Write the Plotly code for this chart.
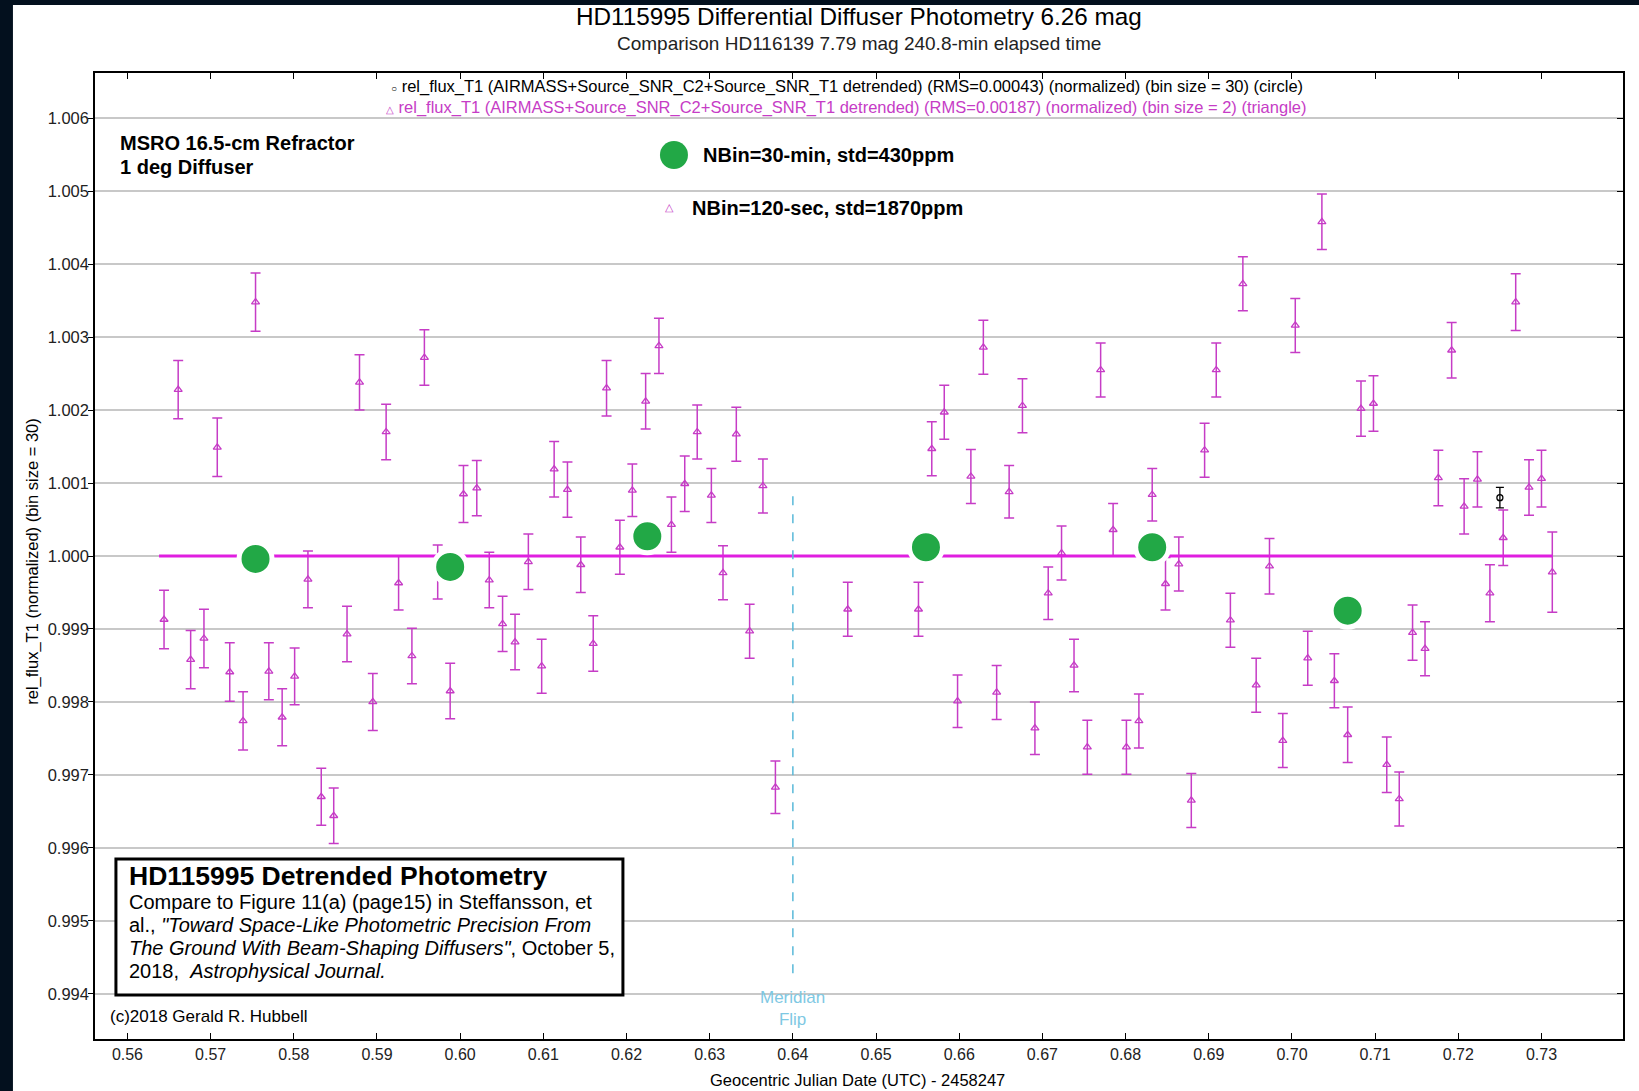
import plotly.graph_objects as go

# 120-sec bins (triangles)
jd_tri = [
    0.5644, 0.5661, 0.5676, 0.5692, 0.5708, 0.5723, 0.5739, 0.5754, 0.5770, 0.5786,
    0.5801, 0.5817, 0.5833, 0.5848, 0.5864, 0.5879, 0.5895, 0.5911, 0.5926, 0.5942,
    0.5957, 0.5973, 0.5988, 0.6004, 0.6020, 0.6035, 0.6051, 0.6066, 0.6082, 0.6098,
    0.6113, 0.6129, 0.6145, 0.6160, 0.6176, 0.6192, 0.6207, 0.6223, 0.6239, 0.6254,
    0.6270, 0.6285, 0.6302, 0.6316, 0.6332, 0.6348, 0.6364, 0.6379,
    0.6466, 0.6551, 0.6567, 0.6582, 0.6598, 0.6614, 0.6629, 0.6645, 0.6660, 0.6676,
    0.6691, 0.6707, 0.6723, 0.6738, 0.6754, 0.6770, 0.6785, 0.6801, 0.6816, 0.6832,
    0.6848, 0.6864, 0.6879, 0.6895, 0.6909, 0.6926, 0.6941, 0.6957, 0.6973, 0.6989,
    0.7004, 0.7019, 0.7036, 0.7051, 0.7067, 0.7083, 0.7098, 0.7114, 0.7129, 0.7145,
    0.7160, 0.7176, 0.7192, 0.7207, 0.7223, 0.7238, 0.7254, 0.7269, 0.7285, 0.7300,
    0.7313,
]
flux_tri = [
    0.99913, 1.00228, 0.99858, 0.99887, 1.00149, 0.99841, 0.99774, 1.00348, 0.99842, 0.99779,
    0.99835, 0.99968, 0.99670, 0.99644, 0.99893, 1.00238, 0.99800, 1.00170, 0.99963, 0.99863,
    1.00272, 0.99978, 0.99815, 1.00085, 1.00093, 0.99967, 0.99907, 0.99882, 0.99992, 0.99849,
    1.00119, 1.00091, 0.99988, 0.99880, 1.00230, 1.00012, 1.00090, 1.00212, 1.00288, 1.00043,
    1.00099, 1.00170, 1.00083, 0.99977, 1.00167, 0.99897, 1.00096, 0.99683,
    0.99927, 0.99927, 1.00147, 1.00197, 0.99801, 1.00109, 1.00286, 0.99813, 1.00088, 1.00206,
    0.99764, 0.99949, 1.00004, 0.99850, 0.99738, 1.00255, 1.00036, 0.99738, 0.99774, 1.00084,
    0.99962, 0.99989, 0.99665, 1.00145, 1.00255, 0.99912, 1.00373, 0.99823, 0.99986, 0.99747,
    1.00316, 0.99860, 1.00458, 0.99829, 0.99755, 1.00202, 1.00209, 0.99714, 0.99667, 0.99895,
    0.99873, 1.00107, 1.00282, 1.00068, 1.00105, 0.99949, 1.00025, 1.00348, 1.00094, 1.00106,
    0.99978,
]
err_tri = [
    0.00040, 0.00040, 0.00040, 0.00040, 0.00040, 0.00040, 0.00040, 0.00040, 0.00039, 0.00039,
    0.00039, 0.00039, 0.00039, 0.00038, 0.00038, 0.00038, 0.00039, 0.00038, 0.00037, 0.00038,
    0.00038, 0.00037, 0.00038, 0.00039, 0.00038, 0.00038, 0.00038, 0.00038, 0.00038, 0.00037,
    0.00038, 0.00038, 0.00038, 0.00038, 0.00038, 0.00037, 0.00036, 0.00038, 0.00038, 0.00038,
    0.00038, 0.00037, 0.00037, 0.00037, 0.00037, 0.00037, 0.00037, 0.00036,
    0.00037, 0.00037, 0.00037, 0.00037, 0.00036, 0.00037, 0.00037, 0.00037, 0.00036, 0.00037,
    0.00036, 0.00036, 0.00037, 0.00036, 0.00037, 0.00037, 0.00036, 0.00037, 0.00037, 0.00036,
    0.00036, 0.00037, 0.00037, 0.00037, 0.00037, 0.00037, 0.00037, 0.00037, 0.00038, 0.00037,
    0.00037, 0.00037, 0.00038, 0.00037, 0.00038, 0.00038, 0.00038, 0.00038, 0.00037, 0.00038,
    0.00037, 0.00038, 0.00038, 0.00038, 0.00038, 0.00039, 0.00038, 0.00039, 0.00038, 0.00039,
    0.00055,
]

# 30-min bins (green circles)
jd_30 = [0.5754, 0.5988, 0.6225, 0.6560, 0.6832, 0.7067]
flux_30 = [0.99996, 0.99985, 1.00027, 1.00012, 1.00012, 0.99925]

# bin size = 30 series (black circle)
jd_circ = [0.7250]
flux_circ = [1.00080]
err_circ = [0.00014]

# normalized level line
fit_x = [0.5638, 0.7313]
fit_y = [1.0, 1.0]

meridian_flip = 0.64
meridian_y = [0.99428, 1.00083]

FONT = "Liberation Sans, Arial, sans-serif"
MAGENTA = "#c63cc6"
GREEN = "#22a846"
FRAME = "#03101e"

fig = go.Figure()
fig.add_trace(go.Scatter(
    x=jd_tri, y=flux_tri, mode="markers",
    marker=dict(symbol="triangle-up-open", size=7, color=MAGENTA, line=dict(width=1.3)),
    error_y=dict(type="data", array=err_tri, color=MAGENTA, thickness=1.5, width=5),
    showlegend=False,
))
fig.add_trace(go.Scatter(
    x=fit_x, y=fit_y, mode="lines",
    line=dict(color="#e01ee0", width=3), showlegend=False,
))
fig.add_trace(go.Scatter(
    x=jd_circ, y=flux_circ, mode="markers", yaxis="y2",
    marker=dict(symbol="circle-open", size=6, color="black", line=dict(width=1.3)),
    error_y=dict(type="data", array=err_circ, color="black", thickness=1.3, width=4),
    showlegend=False,
))
fig.add_trace(go.Scatter(
    x=jd_30, y=flux_30, mode="markers",
    marker=dict(size=33, color=GREEN, line=dict(color="white", width=5)),
    showlegend=False,
))

shapes = [
    # dark frame strips (left and top) of the screenshot
    dict(type="rect", xref="paper", yref="paper", x0=-0.1, x1=-0.0537, y0=-0.1, y1=1.1,
         fillcolor=FRAME, line=dict(width=0), layer="below"),
    dict(type="rect", xref="paper", yref="paper", x0=-0.1, x1=1.1, y0=1.0704, y1=1.1,
         fillcolor=FRAME, line=dict(width=0), layer="below"),
    dict(type="line", xref="x", yref="y", x0=meridian_flip, x1=meridian_flip,
         y0=meridian_y[0], y1=meridian_y[1], line=dict(color="#5ab9d9", width=1.5, dash="dash")),
    dict(type="rect", xref="paper", yref="paper", x0=0.0137, x1=0.3455, y0=0.0455, y1=0.1863,
         fillcolor="white", line=dict(color="black", width=3)),
    dict(type="circle", xref="paper", yref="paper", xsizemode="pixel", ysizemode="pixel",
         xanchor=0.3789, yanchor=0.9151, x0=-14, x1=14, y0=-14, y1=14,
         fillcolor=GREEN, line=dict(width=0)),
]

ann = [
    dict(text="HD115995 Differential Diffuser Photometry 6.26 mag", x=0.5, y=1.059,
         font=dict(size=24.3, color="black")),
    dict(text="Comparison HD116139 7.79 mag 240.8-min elapsed time", x=0.5, y=1.031,
         font=dict(size=19, color="#222")),
    dict(text="<span style='font-size:10px'>○</span> rel_flux_T1 (AIRMASS+Source_SNR_C2+Source_SNR_T1 detrended) "
              "(RMS=0.00043) (normalized) (bin size = 30) (circle)",
         x=0.492, y=0.9865, font=dict(size=16.5, color="black")),
    dict(text="<span style='font-size:10px'>△</span> rel_flux_T1 (AIRMASS+Source_SNR_C2+Source_SNR_T1 detrended) "
              "(RMS=0.00187) (normalized) (bin size = 2) (triangle)",
         x=0.492, y=0.9638, font=dict(size=16.5, color=MAGENTA)),
    dict(text="<b>MSRO 16.5-cm Refractor</b>", x=0.0151, y=0.9275, xanchor="left",
         font=dict(size=20, color="black")),
    dict(text="<b>1 deg Diffuser</b>", x=0.0151, y=0.9027, xanchor="left",
         font=dict(size=20, color="black")),
    dict(text="<b>NBin=30-min, std=430ppm</b>", x=0.3966, y=0.9151, xanchor="left",
         font=dict(size=20, color="black")),
    dict(text="△", x=0.3763, y=0.8615, font=dict(size=11, color=MAGENTA)),
    dict(text="<b>NBin=120-sec, std=1870ppm</b>", x=0.3894, y=0.8602, xanchor="left",
         font=dict(size=20, color="black")),
    dict(text="<b>HD115995 Detrended Photometry</b>", x=0.0209, y=0.1687, xanchor="left",
         font=dict(size=26.5, color="black")),
    dict(text="Compare to Figure 11(a) (page15) in Steffansson, et", x=0.0209, y=0.1418,
         xanchor="left", font=dict(size=20, color="black")),
    dict(text="al., <i>\"Toward Space-Like Photometric Precision From</i>", x=0.0209, y=0.1180,
         xanchor="left", font=dict(size=20, color="black")),
    dict(text="<i>The Ground With Beam-Shaping Diffusers\"</i>, October 5,", x=0.0209, y=0.0942,
         xanchor="left", font=dict(size=20, color="black")),
    dict(text="2018,  <i>Astrophysical Journal.</i>", x=0.0209, y=0.0704,
         xanchor="left", font=dict(size=20, color="black")),
    dict(text="(c)2018 Gerald R. Hubbell", x=0.0085, y=0.0238, xanchor="left",
         font=dict(size=17, color="black")),
    dict(text="Meridian<br>Flip", x=meridian_flip, xref="x", y=0.032,
         font=dict(size=17, color="#7ec8e3")),
    dict(text="rel_flux_T1 (normalized) (bin size = 30)", x=-0.0406, y=0.495, textangle=-90,
         font=dict(size=16.5, color="black")),
    dict(text="Geocentric Julian Date (UTC) - 2458247", x=0.4987, y=-0.0424,
         font=dict(size=16.5, color="black")),
]
for a in ann:
    a.setdefault("xref", "paper")
    a.setdefault("yref", "paper")
    a.setdefault("xanchor", "center")
    a.setdefault("yanchor", "middle")
    a.setdefault("showarrow", False)

fig.update_layout(
    width=1639, height=1091,
    margin=dict(l=95, r=16, t=73, b=52),
    paper_bgcolor="white", plot_bgcolor="white",
    font=dict(family=FONT, size=15, color="black"),
    shapes=shapes, annotations=ann,
    xaxis=dict(
        range=[0.5561, 0.7398], tick0=0.56, dtick=0.01, tickformat=".2f",
        showgrid=False, zeroline=False, showline=True, linecolor="black", linewidth=1.5,
        mirror="ticks", ticks="inside", ticklen=6, tickcolor="black",
        tickfont=dict(size=16, color="#222"),
    ),
    yaxis=dict(
        range=[0.99338, 1.00662], tick0=1.0, dtick=0.001, tickformat=".3f",
        showgrid=True, gridcolor="#c8c8c8", gridwidth=1.5, zeroline=False,
        showline=True, linecolor="black", linewidth=1.5, mirror=True,
        ticks="outside", ticklen=5, tickcolor="black", ticklabelstandoff=-4,
        tickfont=dict(size=16.5, color="#222"),
    ),
    yaxis2=dict(
        overlaying="y", side="right", anchor="x", matches="y",
        showgrid=False, zeroline=False, showticklabels=False, showline=False,
        ticks="inside", ticklen=6, tickcolor="black", tick0=1.0, dtick=0.001,
    ),
)

page_fix = (
    "var st=document.createElement('style');"
    "st.textContent='html,body{margin:0;padding:0;overflow:hidden;background:#fff}"
    "::-webkit-scrollbar{display:none;width:0;height:0}';"
    "document.head.appendChild(st);"
)

fig.write_html("out.html", config={"displayModeBar": False}, post_script=page_fix)
